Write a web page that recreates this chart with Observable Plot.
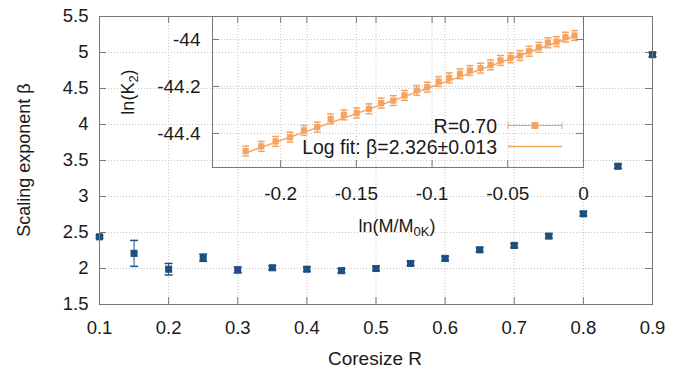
<!DOCTYPE html>
<html><head><meta charset="utf-8">
<script src="https://cdn.jsdelivr.net/npm/d3@7"></script>
<script src="https://cdn.jsdelivr.net/npm/@observablehq/plot@0.6"></script>
<style>
body{margin:0;background:#fff;}
#chart{position:relative;width:684px;height:372px;font-family:Arial,"Liberation Sans",sans-serif;}
#chart svg{position:absolute;top:0;overflow:visible;}
</style></head><body><div id="chart"></div>
<script>
// ---- main chart data ----
const coreSize = [0.1,0.15,0.2,0.25,0.3,0.35,0.4,0.45,0.5,0.55,0.6,0.65,0.7,0.75,0.8,0.85,0.9];
const beta     = [2.44,2.21,1.99,2.15,1.98,2.01,1.99,1.97,2.00,2.07,2.14,2.26,2.32,2.45,2.76,3.42,4.97];
const betaErr  = [0.02,0.18,0.08,0.05,0.04,0.03,0.03,0.03,0.03,0.03,0.03,0.03,0.03,0.03,0.03,0.03,0.03];
const xTicks = [0.1,0.2,0.3,0.4,0.5,0.6,0.7,0.8,0.9];
const yTicks = [1.5,2,2.5,3,3.5,4,4.5,5,5.5];
const xTitle = "Coresize R";
const yTitle = "Scaling exponent β";

// ---- inset data (R = 0.70) ----
const lnM = [-0.2231,-0.2128,-0.2033,-0.1938,-0.1846,-0.1758,-0.1670,-0.1582,-0.1498,-0.1417,
             -0.1336,-0.1256,-0.1182,-0.1102,-0.1032,-0.0957,-0.0887,-0.0816,-0.0750,-0.0680,
             -0.0614,-0.0548,-0.0482,-0.0420,-0.0359,-0.0295,-0.0235,-0.0178,-0.0119,-0.0059];
const lnK2 = [-44.475,-44.455,-44.434,-44.416,-44.387,-44.373,-44.338,-44.321,-44.313,-44.295,
              -44.271,-44.260,-44.238,-44.217,-44.203,-44.179,-44.163,-44.146,-44.132,-44.122,
              -44.108,-44.089,-44.078,-44.068,-44.050,-44.033,-44.014,-44.009,-43.990,-43.983];
const lnK2Err = 0.021;
const fitLnM  = [-0.2231,-0.0059];
const fitLnK2 = [-44.483,-43.985];
const insetXTicks = [-0.2,-0.15,-0.1,-0.05,0];
const insetYTicks = [-44.4,-44.2,-44];
const legendLabels = ["R=0.70","Log fit: β=2.326±0.013"];

// ---- styles ----
const blue="#1f4f7f", orange="#f4a460", frameC="#777", gridC="#c4c4c4", textC="#1a1a1a";
const FONT = 'Arial, "Liberation Sans", sans-serif';
const TL = 7, TF = 18.5;
const cap = {draw(ctx,size){const h=Math.sqrt(size/Math.PI); ctx.moveTo(-h,0); ctx.lineTo(h,0);}};
const fmt = d => String(d);

// ---- main plot ----
const W=684,H=372,mL=99,mR=32,mT=16,mB=68;
const iw=W-mL-mR, ih=H-mT-mB;
const mainRows = coreSize.map((r,i)=>({r, b:beta[i], e:betaErr[i]}));
const main = Plot.plot({
  width:W,height:H,marginLeft:mL,marginRight:mR,marginTop:mT,marginBottom:mB,
  style:{background:"transparent",fontFamily:FONT,color:textC,overflow:"visible"},
  x:{domain:[0.1,0.9]}, y:{domain:[1.5,5.5]},
  marks:[
    Plot.gridX({ticks:xTicks,stroke:gridC,strokeOpacity:1,strokeDasharray:"1,2"}),
    Plot.gridY({ticks:yTicks,stroke:gridC,strokeOpacity:1,strokeDasharray:"1,2"}),
    Plot.tickX(xTicks,{x:d=>d,insetTop:ih-TL,stroke:frameC}),
    Plot.tickX(xTicks,{x:d=>d,insetBottom:ih-TL,stroke:frameC}),
    Plot.tickY(yTicks,{y:d=>d,insetRight:iw-TL,stroke:frameC}),
    Plot.tickY(yTicks,{y:d=>d,insetLeft:iw-TL,stroke:frameC}),
    Plot.axisX({ticks:xTicks,tickSize:0,tickPadding:16,tickFormat:fmt,fontSize:TF,label:null}),
    Plot.axisY({ticks:yTicks,tickSize:0,tickPadding:11,tickFormat:fmt,fontSize:TF,label:null}),
    Plot.ruleX(mainRows,{x:"r",y1:d=>d.b-d.e,y2:d=>d.b+d.e,stroke:blue,strokeWidth:1}),
    Plot.dot(mainRows,{x:"r",y:d=>d.b-d.e,symbol:cap,r:4,stroke:blue,fill:"none"}),
    Plot.dot(mainRows,{x:"r",y:d=>d.b+d.e,symbol:cap,r:4,stroke:blue,fill:"none"}),
    Plot.dot(mainRows,{x:"r",y:"b",symbol:"square",r:4,fill:blue}),
    Plot.frame({stroke:frameC})
  ]
});
main.style.left="0px";
document.getElementById("chart").appendChild(main);
const ms = d3.select(main);
ms.append("text").text(yTitle).attr("transform","translate(24,160) rotate(-90)")
  .attr("text-anchor","middle").attr("dominant-baseline","central")
  .attr("font-size",18).attr("fill",textC).attr("font-family",FONT);
ms.append("text").text(xTitle).attr("x",375).attr("y",358)
  .attr("text-anchor","middle").attr("dominant-baseline","central")
  .attr("font-size",19).attr("fill",textC).attr("font-family",FONT);

// ---- inset plot ----
const IW=500,IH=240,iL=112,iR=17,iT=16,iB=73, OFF=100;
const iiw=IW-iL-iR, iih=IH-iT-iB;
const insetRows = lnM.map((x,i)=>({x, y:lnK2[i]}));
const fitRows = fitLnM.map((x,i)=>({x, y:fitLnK2[i]}));
const inset = Plot.plot({
  width:IW,height:IH,marginLeft:iL,marginRight:iR,marginTop:iT,marginBottom:iB,
  style:{background:"transparent",fontFamily:FONT,color:textC,overflow:"visible"},
  x:{domain:[-0.245,0]}, y:{domain:[-44.545,-43.902]},
  marks:[
    Plot.gridX({ticks:insetXTicks,stroke:gridC,strokeOpacity:1,strokeDasharray:"1,2"}),
    Plot.gridY({ticks:insetYTicks,stroke:gridC,strokeOpacity:1,strokeDasharray:"1,2"}),
    Plot.tickX(insetXTicks,{x:d=>d,insetTop:iih-TL,stroke:frameC}),
    Plot.tickX(insetXTicks,{x:d=>d,insetBottom:iih-TL,stroke:frameC}),
    Plot.tickY(insetYTicks,{y:d=>d,insetRight:iiw-TL,stroke:frameC}),
    Plot.tickY(insetYTicks,{y:d=>d,insetLeft:iiw-TL,stroke:frameC}),
    Plot.axisX({ticks:insetXTicks,tickSize:0,tickPadding:19,tickFormat:fmt,fontSize:19,label:null}),
    Plot.axisY({ticks:insetYTicks,tickSize:0,tickPadding:12,tickFormat:fmt,fontSize:19,label:null}),
    Plot.line(fitRows,{x:"x",y:"y",stroke:orange,strokeWidth:1.5}),
    Plot.ruleX(insetRows,{x:"x",y1:d=>d.y-lnK2Err,y2:d=>d.y+lnK2Err,stroke:orange,strokeWidth:1}),
    Plot.dot(insetRows,{x:"x",y:d=>d.y-lnK2Err,symbol:cap,r:3.5,stroke:orange,fill:"none"}),
    Plot.dot(insetRows,{x:"x",y:d=>d.y+lnK2Err,symbol:cap,r:3.5,stroke:orange,fill:"none"}),
    Plot.dot(insetRows,{x:"x",y:"y",symbol:"square",r:3.5,fill:orange}),
    Plot.frame({stroke:frameC})
  ]
});
inset.style.left=OFF+"px";
document.getElementById("chart").appendChild(inset);
const is = d3.select(inset);
// inset axis titles
const xl = is.append("text").attr("x",297).attr("y",226)
  .attr("text-anchor","middle").attr("dominant-baseline","central")
  .attr("font-size",18).attr("fill",textC).attr("font-family",FONT);
xl.append("tspan").text("ln(M/M");
xl.append("tspan").text("0K").attr("font-size",13).attr("dy",5);
xl.append("tspan").text(")").attr("dy",-5);
const yl = is.append("text").attr("transform","translate(28,92) rotate(-90)")
  .attr("text-anchor","middle").attr("dominant-baseline","central")
  .attr("font-size",18).attr("fill",textC).attr("font-family",FONT);
yl.append("tspan").text("ln(K");
yl.append("tspan").text("2").attr("font-size",13).attr("dy",5);
yl.append("tspan").text(")").attr("dy",-5);
// legend
const legY=[125.5,146.5], lx1=408, lx2=462, tx=397;
legendLabels.forEach((lab,i)=>{
  is.append("text").text(lab).attr("x",tx).attr("y",legY[i])
    .attr("text-anchor","end").attr("dominant-baseline","central")
    .attr("font-size",19.5).attr("fill",textC).attr("font-family",FONT);
  is.append("line").attr("x1",lx1).attr("x2",lx2).attr("y1",legY[i]).attr("y2",legY[i])
    .attr("stroke",orange).attr("stroke-width",i===0?1:1.5);
});
[lx1,lx2].forEach(x=>is.append("line").attr("x1",x).attr("x2",x)
  .attr("y1",legY[0]-3.5).attr("y2",legY[0]+3.5).attr("stroke",orange));
is.append("rect").attr("x",(lx1+lx2)/2-3.5).attr("y",legY[0]-3.5)
  .attr("width",7).attr("height",7).attr("fill",orange);
</script></body></html>
